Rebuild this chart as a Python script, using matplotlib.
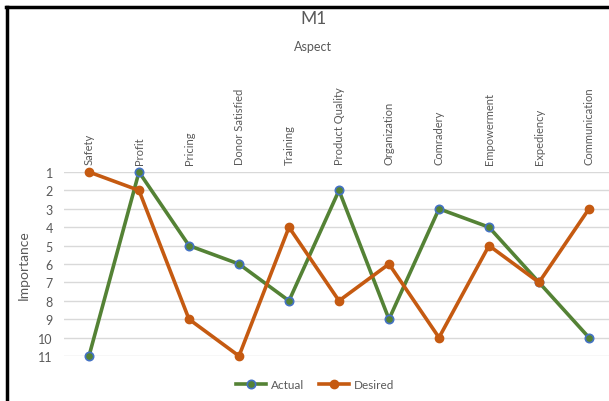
import matplotlib.pyplot as plt
from matplotlib.lines import Line2D

plt.rcParams['font.family'] = ['Lato', 'DejaVu Sans']

# data
aspects = ["Safety", "Profit", "Pricing", "Donor Satisfied", "Training",
           "Product Quality", "Organization", "Comradery", "Empowerment",
           "Expediency", "Communication"]
actual = [11, 1, 5, 6, 8, 2, 9, 3, 4, 7, 10]
desired = [1, 2, 9, 11, 4, 8, 6, 10, 5, 7, 3]
ranks = list(range(1, 12))

green = "#548235"
orange = "#C55A11"
blue = "#4472C4"
text_c = "#595959"

fig = plt.figure(figsize=(6.09, 4.02), dpi=100)
ax = fig.add_axes([64 / 609, 1 - 357 / 402, 550 / 609, 184 / 402])

x = range(len(aspects))
ax.plot(x, actual, color=green, linewidth=2.6, marker="o", markersize=6,
        markerfacecolor=green, markeredgecolor=blue, markeredgewidth=1.2,
        label="Actual", clip_on=False, zorder=3)
ax.plot(x, desired, color=orange, linewidth=2.6, marker="o", markersize=6,
        markerfacecolor=orange, markeredgecolor=orange,
        label="Desired", clip_on=False, zorder=3)

ax.set_xlim(-0.5, len(aspects) - 0.5)
ax.set_ylim(11, 1)
ax.set_yticks(ranks)
ax.set_xticks(list(x))
ax.set_xticklabels(aspects, rotation=90)
ax.xaxis.tick_top()
ax.tick_params(axis="x", length=0, pad=6, labelsize=8, labelcolor=text_c)
ax.tick_params(axis="y", length=0, pad=8, labelsize=9, labelcolor=text_c)
ax.grid(axis="y", color="#d9d9d9", linewidth=1)
ax.set_axisbelow(True)
for s in ax.spines.values():
    s.set_visible(False)

ax.set_ylabel("Importance", fontsize=10, color=text_c, labelpad=10)
ax.yaxis.set_label_coords(-0.062, 0.5)

# titles above the rotated category labels
fig.text(313 / 609, 1 - 19 / 402, "M1", ha="center", va="center",
         fontsize=12.5, color=text_c)
fig.text(313 / 609, 1 - 47 / 402, "Aspect", ha="center", va="center",
         fontsize=9, color=text_c)

# legend
leg = fig.legend(loc="center", bbox_to_anchor=(315 / 609, 1 - 386 / 402),
                 ncol=2, frameon=False, fontsize=8.5, handlelength=2.6,
                 columnspacing=1.2, handletextpad=0.4)
for t in leg.get_texts():
    t.set_color(text_c)

# black frame on top and left
fig.add_artist(Line2D([7 / 609, 7 / 609], [0, 1 - 8 / 402],
                      color="black", linewidth=2.5, transform=fig.transFigure))
fig.add_artist(Line2D([6 / 609, 1], [1 - 8 / 402, 1 - 8 / 402],
                      color="black", linewidth=2.5, transform=fig.transFigure))

fig.savefig("out.png", dpi=100)
